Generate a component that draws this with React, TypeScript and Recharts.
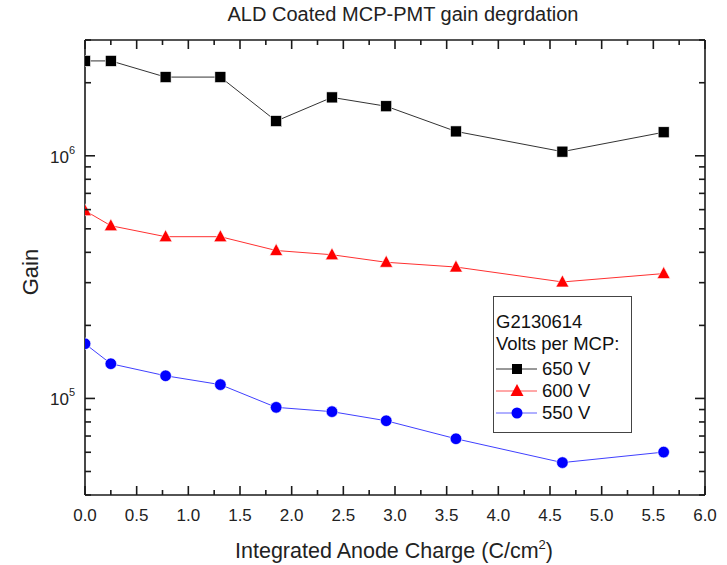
import React from "react";
import { LineChart, Line, XAxis, YAxis, Label } from "recharts";

const charge = [0, 0.25, 0.78, 1.31, 1.85, 2.39, 2.915, 3.59, 4.62, 5.6];
const gain650 = [2.46e6, 2.46e6, 2.11e6, 2.11e6, 1.39e6, 1.74e6, 1.6e6, 1.26e6, 1.04e6, 1.25e6];
const gain600 = [5.94e5, 5.15e5, 4.64e5, 4.64e5, 4.07e5, 3.91e5, 3.64e5, 3.48e5, 3.02e5, 3.27e5];
const gain550 = [1.68e5, 1.39e5, 1.24e5, 1.14e5, 9.19e4, 8.82e4, 8.09e4, 6.82e4, 5.44e4, 6.01e4];

const xTicks = [0, 0.25, 0.5, 0.75, 1, 1.25, 1.5, 1.75, 2, 2.25, 2.5, 2.75, 3, 3.25, 3.5, 3.75, 4, 4.25, 4.5, 4.75, 5, 5.25, 5.5, 5.75, 6];
const yTicks = [4e4, 5e4, 6e4, 7e4, 8e4, 9e4, 1e5, 2e5, 3e5, 4e5, 5e5, 6e5, 7e5, 8e5, 9e5, 1e6, 2e6, 3e6];
const yMajor = [1e5, 1e6];
const seriesNames = ["650 V", "600 V", "550 V"];
const legendTitle = ["G2130614", "Volts per MCP:"];

const data = charge.map((c, i) => ({ c, g650: gain650[i], g600: gain600[i], g550: gain550[i] }));

const FONT = "'Liberation Sans', Arial, sans-serif";
const AX = "#1a1a1a";

const isMajorX = (v: number) => Math.abs(v * 2 - Math.round(v * 2)) < 1e-6;
const isMajorY = (v: number) => yMajor.some((m) => Math.abs(m - v) / m < 1e-6);

const LeftTick = (p: any) => {
  const { x, y, payload } = p;
  const major = isMajorY(payload.value);
  const exp = Math.round(Math.log10(payload.value));
  return (
    <g>
      <line x1={x} y1={y} x2={x + (major ? 10 : 6)} y2={y} stroke={AX} strokeWidth={1.6} />
      {major && (
        <text x={x - 10} y={y + 7} textAnchor="end" fontSize={17} fontFamily={FONT} fill="#222">
          10<tspan dy={-9} fontSize={11}>{exp}</tspan>
        </text>
      )}
    </g>
  );
};

const RightTick = (p: any) => {
  const { x, y, payload } = p;
  const major = isMajorY(payload.value);
  return <line x1={x} y1={y} x2={x - (major ? 10 : 6)} y2={y} stroke={AX} strokeWidth={1.6} />;
};

const BottomTick = (p: any) => {
  const { x, y, payload } = p;
  const major = isMajorX(payload.value);
  return (
    <g>
      <line x1={x} y1={y} x2={x} y2={y - (major ? 9 : 5)} stroke={AX} strokeWidth={1.6} />
      {major && (
        <text x={x} y={y + 26} textAnchor="middle" fontSize={17} fontFamily={FONT} fill="#222">
          {payload.value.toFixed(1)}
        </text>
      )}
    </g>
  );
};

const TopTick = (p: any) => {
  const { x, y, payload } = p;
  const major = isMajorX(payload.value);
  return <line x1={x} y1={y} x2={x} y2={y + (major ? 9 : 5)} stroke={AX} strokeWidth={1.6} />;
};

const Square = (p: any) => {
  const { cx, cy } = p;
  if (cx == null || cy == null) return <g />;
  return <rect x={cx - 5.5} y={cy - 5.5} width={11} height={11} fill="#000" stroke="#fff" strokeWidth={0.6} />;
};
const Tri = (p: any) => {
  const { cx, cy } = p;
  if (cx == null || cy == null) return <g />;
  return <polygon points={`${cx},${cy - 7} ${cx - 6.5},${cy + 5} ${cx + 6.5},${cy + 5}`} fill="#ff0000" stroke="#fff" strokeWidth={0.6} />;
};
const Circ = (p: any) => {
  const { cx, cy } = p;
  if (cx == null || cy == null) return <g />;
  return <circle cx={cx} cy={cy} r={5.8} fill="#0000ff" stroke="#fff" strokeWidth={0.6} />;
};

const legendStyles = [
  { color: "#333", marker: "sq" },
  { color: "#ff5050", marker: "tri" },
  { color: "#6060ff", marker: "circ" },
];

const LegendBox = () => (
  <div
    style={{
      position: "absolute",
      left: 493,
      top: 296,
      width: 139,
      height: 137,
      border: "1px solid #444",
      background: "#fff",
      fontFamily: FONT,
      fontSize: 18.5,
      color: "#111",
      paddingTop: 14,
      lineHeight: "22px",
      textAlign: "left",
      boxSizing: "border-box",
    }}
  >
    {legendTitle.map((t) => (
      <div key={t} style={{ paddingLeft: 2, height: 22, whiteSpace: "nowrap" }}>{t}</div>
    ))}
    <div style={{ height: 3 }} />
    {seriesNames.map((n, i) => {
      const s = legendStyles[i];
      return (
        <div key={n} style={{ display: "flex", alignItems: "center", height: 22 }}>
          <svg width={48} height={22} style={{ display: "block" }}>
            <line x1={2} y1={11} x2={43} y2={11} stroke={s.color} strokeWidth={1} />
            {s.marker === "sq" && <rect x={18} y={6} width={10} height={10} fill="#000" />}
            {s.marker === "tri" && <polygon points="23,4 16.5,16 29.5,16" fill="#ff0000" />}
            {s.marker === "circ" && <circle cx={23} cy={11} r={5.5} fill="#0000ff" />}
          </svg>
          <span>{n}</span>
        </div>
      );
    })}
  </div>
);

const XLabel = () => (
  <text x={394} y={558} textAnchor="middle" fontSize={21.5} fontFamily={FONT} fill="#222">
    Integrated Anode Charge (C/cm<tspan dy={-9} fontSize={13}>2</tspan><tspan dy={9}>)</tspan>
  </text>
);

const YLabel = () => (
  <text x={38} y={272} transform="rotate(-90 38 272)" textAnchor="middle" fontSize={22} fontFamily={FONT} fill="#222">
    Gain
  </text>
);

export default function App() {
  return (
    <div style={{ position: "absolute", left: 0, top: 0, width: 727, height: 565, background: "#fff" }}>
      <div
        style={{
          position: "absolute",
          left: 0,
          width: 806,
          top: 3,
          textAlign: "center",
          fontFamily: FONT,
          fontSize: 20,
          color: "#222",
        }}
      >
        ALD Coated MCP-PMT gain degrdation
      </div>
      <LineChart width={727} height={565} data={data} margin={{ top: 0, right: 0, bottom: 0, left: 0 }}>
        <XAxis
          xAxisId="bottom"
          dataKey="c"
          type="number"
          domain={[0, 6]}
          ticks={xTicks}
          interval={0}
          height={70}
          tickSize={0}
          tickMargin={0}
          tick={<BottomTick />}
          axisLine={{ stroke: AX, strokeWidth: 1.6 }}
          tickLine={false}
          allowDataOverflow
        >
          <Label content={<XLabel />} />
        </XAxis>
        <XAxis
          xAxisId="top"
          orientation="top"
          dataKey="c"
          type="number"
          domain={[0, 6]}
          ticks={xTicks}
          interval={0}
          height={40}
          tickSize={0}
          tickMargin={0}
          tick={<TopTick />}
          axisLine={{ stroke: AX, strokeWidth: 1.6 }}
          tickLine={false}
          allowDataOverflow
        />
        <YAxis
          yAxisId="left"
          type="number"
          scale="log"
          domain={[4e4, 3e6]}
          ticks={yTicks}
          interval={0}
          width={85}
          tickSize={0}
          tickMargin={0}
          tick={<LeftTick />}
          axisLine={{ stroke: AX, strokeWidth: 1.6 }}
          tickLine={false}
          allowDataOverflow
        >
          <Label content={<YLabel />} />
        </YAxis>
        <YAxis
          yAxisId="right"
          orientation="right"
          type="number"
          scale="log"
          domain={[4e4, 3e6]}
          ticks={yTicks}
          interval={0}
          width={22}
          tickSize={0}
          tickMargin={0}
          tick={<RightTick />}
          axisLine={{ stroke: AX, strokeWidth: 1.6 }}
          tickLine={false}
          allowDataOverflow
        />
        <Line xAxisId="bottom" yAxisId="left" dataKey="g650" name="650 V" stroke="#333" strokeWidth={1} dot={<Square />} isAnimationActive={false} />
        <Line xAxisId="bottom" yAxisId="left" dataKey="g600" name="600 V" stroke="#ff3030" strokeWidth={1} dot={<Tri />} isAnimationActive={false} />
        <Line xAxisId="bottom" yAxisId="left" dataKey="g550" name="550 V" stroke="#4040ff" strokeWidth={1} dot={<Circ />} isAnimationActive={false} />
      </LineChart>
      <LegendBox />
    </div>
  );
}
